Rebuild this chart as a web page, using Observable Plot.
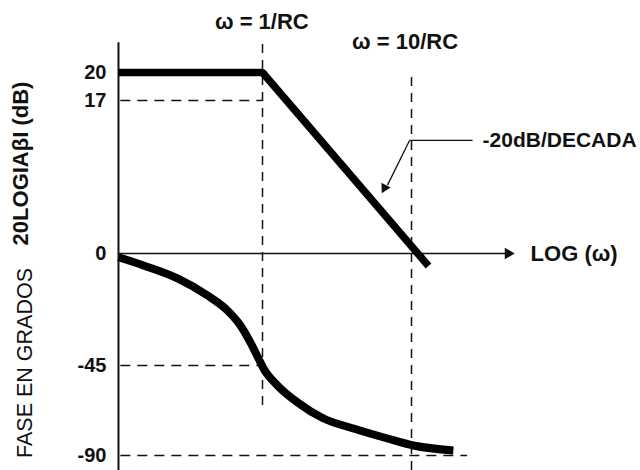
<!DOCTYPE html>
<html><head><meta charset="utf-8">
<script src="https://cdn.jsdelivr.net/npm/d3@7"></script>
<script src="https://cdn.jsdelivr.net/npm/@observablehq/plot@0.6"></script>
<style>html,body{margin:0;padding:0;background:#fff} svg{display:block}</style>
</head><body><div id="chart"></div>
<script>
// Tick labels (y) — magnitude in dB and phase in degrees share one schematic axis
const yTicks = [20, 17, 0, -45, -90];
// Frequency (in units of 1/RC)
const wStart = 0.108;
const wCorner = 1;
const wDecade = 10;
// Magnitude asymptote (dB)
const magW = [0.108, 1, 13.0];
const magDb = [20, 20, -5];
// Phase (degrees)
const phaseW = [0.108, 0.159, 0.269, 0.428, 0.582, 0.711, 0.831, 0.94, 1.016, 1.26, 1.72, 2.57, 4.08, 6.9, 10.3, 19.1];
const phaseDeg = [-1.5, -4.8, -10, -16.9, -22.9, -28.9, -35.8, -42.2, -46.5, -55, -63.5, -71.5, -76.5, -81.5, -85, -87.5];
// Annotation labels
const cornerLabels = ["ω = 1/RC", "ω = 10/RC"];
const slopeLabel = "-20dB/DECADA";
const xAxisLabel = "LOG (ω)";
const magTitle = "20LOGIAβI (dB)";
const phaseTitle = "FASE EN GRADOS";

const mag = magW.map((w, i) => ({w, v: magDb[i]}));
const phase = phaseW.map((w, i) => ({w, v: phaseDeg[i]}));

// schematic (piecewise) vertical layout: each labelled value gets its own spacing
const yBreaks = [-90, -45, 0, 17, 20];
const yLayout = d3.scaleLinear().domain(yBreaks).range([15, 105, 217, 370, 398]);

const font = "'Liberation Sans', Arial, sans-serif";
const dash = "10,7";
const ink = "#111";

const chart = Plot.plot({
  width: 640,
  height: 470,
  marginLeft: 118,
  marginTop: 0, marginRight: 0, marginBottom: 0,
  style: {fontFamily: font, background: "#fff", color: ink},
  x: {type: "log", domain: [1, 10], range: [262, 411], axis: null},
  y: {type: "linear", domain: [0, 470], range: [470, 0], transform: v => yLayout(v), axis: null, label: null},
  marks: [
    // dashed guide lines
    Plot.ruleY([17, -45], {x1: 0.112, x2: wCorner, stroke: ink, strokeWidth: 1.5, strokeDasharray: dash}),
    Plot.ruleY([-90], {x1: 0.112, x2: 23.8, stroke: ink, strokeWidth: 1.5, strokeDasharray: dash}),
    Plot.ruleX([wCorner], {y1: -65, y2: 23.4, stroke: ink, strokeWidth: 1.5, strokeDasharray: "9,7"}),
    Plot.ruleX([wDecade], {y1: -97.5, y2: 20.2, stroke: ink, strokeWidth: 1.5, strokeDasharray: "9,7"}),
    // axes
    Plot.ruleX([wStart], {y1: -97.5, y2: 23.2, stroke: ink, strokeWidth: 2}),
    Plot.ruleY([0], {x1: wStart, x2: 46, stroke: ink, strokeWidth: 1.5}),
    Plot.dot([0], {x: 44.5, y: 0, symbol: "triangle2", r: 5.5, rotate: 90, fill: ink, stroke: null}),
    Plot.text(yTicks, {x: wStart, y: d => d, text: d => String(d), dx: -12, textAnchor: "end",
      fontSize: 20, fontWeight: "bold", fill: ink}),
    // curves
    Plot.line(mag, {x: "w", y: "v", stroke: "#000", strokeWidth: 7.5, strokeLinejoin: "miter", strokeLinecap: "butt"}),
    Plot.line(phase, {x: "w", y: "v", curve: "monotone-x", stroke: "#000", strokeWidth: 8, strokeLinecap: "butt"}),
    // slope annotation
    Plot.link([0], {x1: 9.7, y1: 12.56, x2: 25.7, y2: 12.56, stroke: ink, strokeWidth: 1.3}),
    Plot.link([0], {x1: 9.7, y1: 12.56, x2: 6.9, y2: 7.6, stroke: ink, strokeWidth: 1.3}),
    Plot.dot([0], {x: 6.6, y: 7.3, symbol: "triangle2", r: 5, rotate: 208, fill: ink, stroke: null}),
    // text
    Plot.text([cornerLabels[0]], {x: 0.99, y: 25.4, text: d => d, fontSize: 22, fontWeight: "bold", fill: ink}),
    Plot.text([cornerLabels[1]], {x: 9.05, y: 23.3, text: d => d, fontSize: 22, fontWeight: "bold", fill: ink}),
    Plot.text([slopeLabel], {x: 30, y: 12.56, text: d => d, textAnchor: "start", fontSize: 21, fontWeight: "bold", fill: ink}),
    Plot.text([xAxisLabel], {x: 63, y: 0, text: d => d, textAnchor: "start", fontSize: 22, fontWeight: "bold", fill: ink}),
    Plot.text([magTitle], {x: 0.0238, y: 10, text: d => d, rotate: -90, fontSize: 22, fontWeight: "bold", fill: ink}),
    Plot.text([phaseTitle], {x: 0.0257, y: -44, text: d => d, rotate: -90, fontSize: 21.5, fill: ink})
  ]
});
document.getElementById("chart").appendChild(chart);
</script>
</body></html>
